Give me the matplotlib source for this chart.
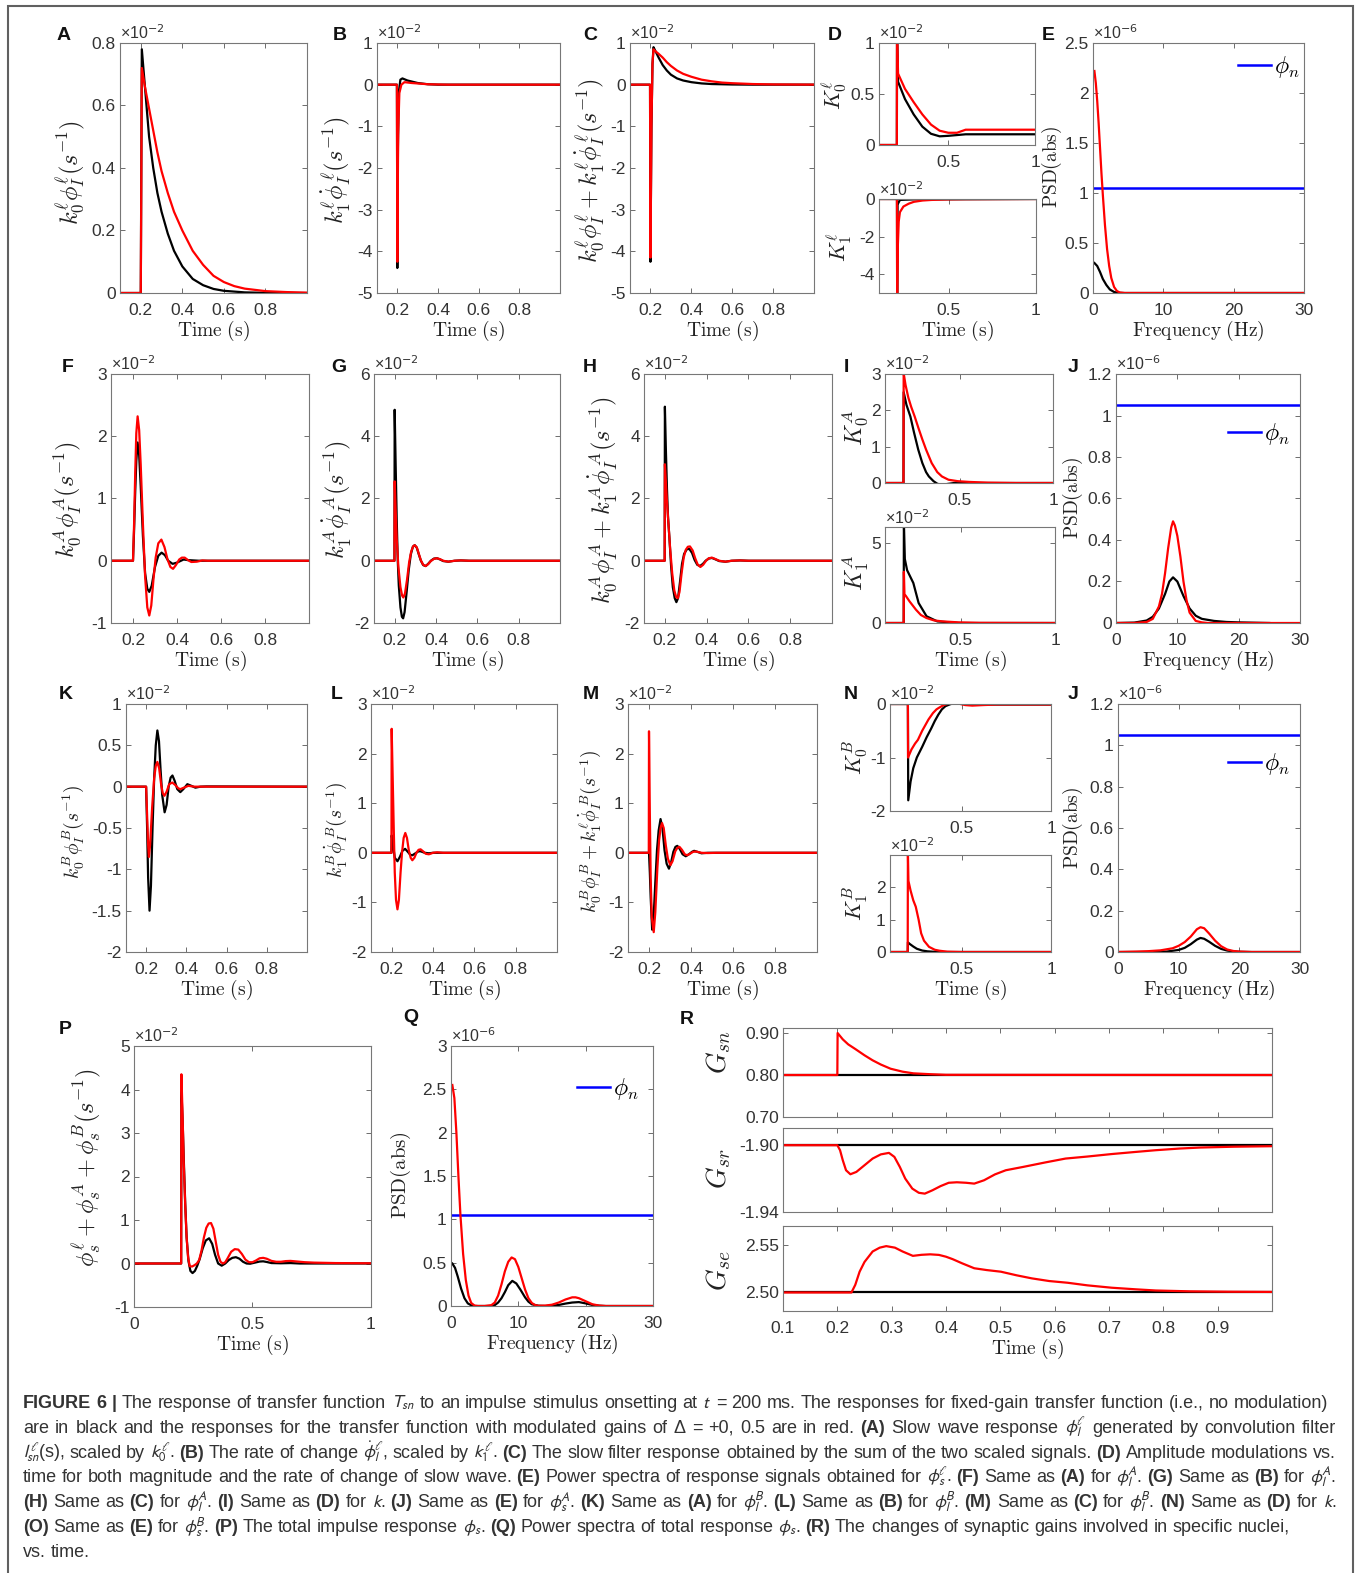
import matplotlib
matplotlib.use("Agg")
import matplotlib.pyplot as plt
from matplotlib.patches import Rectangle
from matplotlib.lines import Line2D

plt.rcParams["font.family"] = ["Liberation Sans", "DejaVu Sans"]
plt.rcParams["mathtext.fontset"] = "cm"
plt.rcParams["axes.unicode_minus"] = False

W, H = 1360, 1573
RED, BLACK, BLUE = "#ff0000", "#000000", "#0000ff"

# ---------------- data (scaled units) ----------------
# A: k0 phi_I (x1e-2)
a_black_t = [0.1, 0.2, 0.205, 0.22, 0.24, 0.26, 0.28, 0.30, 0.33, 0.36, 0.40, 0.45, 0.50, 0.55, 0.60, 0.70, 0.80, 1.0]
a_black = [0, 0, 0.78, 0.66, 0.50, 0.40, 0.32, 0.26, 0.19, 0.135, 0.085, 0.045, 0.025, 0.013, 0.007, 0.002, 0.0005, 0]
a_red_t = [0.1, 0.2, 0.205, 0.22, 0.24, 0.26, 0.28, 0.30, 0.33, 0.36, 0.40, 0.45, 0.50, 0.55, 0.60, 0.65, 0.70, 0.80, 0.90, 1.0]
a_red = [0, 0, 0.72, 0.66, 0.59, 0.52, 0.45, 0.39, 0.32, 0.26, 0.20, 0.135, 0.09, 0.055, 0.035, 0.022, 0.014, 0.006, 0.003, 0.001]

# B: k1 dphi_I
b_black_t = [0.1, 0.198, 0.2, 0.203, 0.207, 0.215, 0.225, 0.25, 0.3, 0.35, 0.4, 1.0]
b_black = [0, 0, -4.4, -1.5, -0.2, 0.12, 0.15, 0.1, 0.04, 0.01, 0, 0]
b_red_t = [0.1, 0.198, 0.2, 0.204, 0.21, 0.22, 0.235, 0.27, 0.35, 0.45, 1.0]
b_red = [0, 0, -4.25, -1.2, -0.2, 0.0, 0.06, 0.04, 0.01, 0, 0]

# C: sum
c_black_t = [0.1, 0.198, 0.2, 0.205, 0.21, 0.215, 0.22, 0.24, 0.26, 0.28, 0.30, 0.33, 0.36, 0.40, 0.45, 0.5, 0.6, 0.7, 1.0]
c_black = [0, 0, -4.25, -1.0, 0.5, 0.9, 0.85, 0.65, 0.47, 0.34, 0.24, 0.15, 0.1, 0.06, 0.03, 0.015, 0.004, 0, 0]
c_red_t = [0.1, 0.198, 0.2, 0.205, 0.21, 0.215, 0.22, 0.24, 0.26, 0.28, 0.30, 0.33, 0.36, 0.40, 0.45, 0.5, 0.55, 0.6, 0.7, 0.8, 1.0]
c_red = [0, 0, -4.15, -1.0, 0.5, 0.85, 0.82, 0.74, 0.65, 0.54, 0.45, 0.34, 0.26, 0.19, 0.12, 0.08, 0.05, 0.035, 0.015, 0.006, 0.001]

# D: K0, K1 (slow)
d0_black_t = [0.1, 0.203, 0.204, 0.21, 0.25, 0.3, 0.35, 0.4, 0.45, 0.5, 0.6, 1.0]
d0_black = [0, 0, 1.1, 0.62, 0.45, 0.3, 0.18, 0.11, 0.085, 0.09, 0.105, 0.105]
d0_red_t = [0.1, 0.203, 0.204, 0.21, 0.25, 0.3, 0.35, 0.4, 0.45, 0.5, 0.55, 0.6, 1.0]
d0_red = [0, 0, 1.1, 0.7, 0.55, 0.42, 0.3, 0.2, 0.14, 0.12, 0.12, 0.15, 0.15]
d1_black_t = [0.1, 0.203, 0.204, 0.206, 0.22, 0.3, 1.0]
d1_black = [0, 0, -5.2, -0.3, -0.05, -0.02, 0]
d1_red_t = [0.1, 0.203, 0.204, 0.208, 0.213, 0.22, 0.24, 0.27, 0.3, 0.35, 0.4, 0.5, 0.6, 1.0]
d1_red = [0, 0, -5.2, -2.5, -1.2, -0.7, -0.4, -0.25, -0.15, -0.08, -0.05, -0.02, -0.01, 0]

# E: PSD (x1e-6)
e_black_f = [0.2, 0.6, 1.0, 1.4, 1.9, 2.4, 3.0, 3.6, 4.5, 30]
e_black = [0.3, 0.27, 0.21, 0.14, 0.08, 0.035, 0.01, 0.002, 0, 0]
e_red_f = [0.2, 0.4, 0.6, 0.8, 1.0, 1.2, 1.4, 1.7, 2.0, 2.3, 2.6, 3.0, 3.4, 3.8, 4.5, 30]
e_red = [2.22, 2.1, 1.92, 1.7, 1.45, 1.2, 0.98, 0.68, 0.44, 0.27, 0.15, 0.06, 0.02, 0.005, 0, 0]
noise_f = [0, 30]
noise = [1.05, 1.05]

# F: k0 phi_I^A
f_black_t = [0.1, 0.2, 0.205, 0.21, 0.215, 0.221, 0.228, 0.235, 0.245, 0.255, 0.265, 0.274, 0.285, 0.3, 0.315, 0.33, 0.345, 0.36, 0.38, 0.4, 0.43, 0.45, 0.5, 1.0]
f_black = [0, 0, 0.5, 1.1, 1.6, 1.9, 1.7, 1.2, 0.4, -0.2, -0.45, -0.5, -0.4, -0.1, 0.08, 0.13, 0.09, 0.0, -0.05, -0.03, 0.02, 0.01, 0, 0]
f_red_t = [0.1, 0.2, 0.205, 0.21, 0.215, 0.221, 0.228, 0.235, 0.245, 0.255, 0.265, 0.274, 0.283, 0.293, 0.303, 0.315, 0.329, 0.343, 0.357, 0.37, 0.382, 0.395, 0.41, 0.422, 0.435, 0.45, 0.465, 0.49, 0.515, 0.54, 1.0]
f_red = [0, 0, 0.6, 1.4, 2.05, 2.32, 2.1, 1.55, 0.6, -0.25, -0.75, -0.88, -0.72, -0.3, 0.05, 0.28, 0.34, 0.22, 0.02, -0.1, -0.13, -0.07, 0.02, 0.05, 0.05, 0.01, -0.02, -0.015, 0.005, 0, 0]

# G: k1 dphi_I^A
g_black_t = [0.1, 0.199, 0.2, 0.205, 0.21, 0.215, 0.22, 0.228, 0.235, 0.241, 0.248, 0.258, 0.268, 0.278, 0.288, 0.297, 0.307, 0.317, 0.327, 0.338, 0.35, 0.362, 0.375, 0.39, 0.405, 0.42, 0.435, 0.46, 0.49, 0.52, 0.56, 1.0]
g_black = [0, 0, 4.85, 3.0, 1.3, 0.0, -0.8, -1.5, -1.8, -1.85, -1.65, -1.0, -0.3, 0.2, 0.45, 0.5, 0.42, 0.2, 0.0, -0.14, -0.17, -0.1, 0.0, 0.07, 0.08, 0.04, -0.01, -0.03, 0.0, 0.01, 0, 0]
g_red_t = [0.1, 0.199, 0.2, 0.205, 0.21, 0.218, 0.228, 0.236, 0.242, 0.25, 0.26, 0.27, 0.28, 0.29, 0.297, 0.307, 0.317, 0.327, 0.338, 0.35, 0.362, 0.375, 0.39, 0.405, 0.42, 0.435, 0.46, 0.49, 0.52, 0.56, 1.0]
g_red = [0, 0, 2.55, 1.6, 0.7, -0.2, -0.85, -1.12, -1.18, -1.05, -0.6, -0.05, 0.3, 0.47, 0.5, 0.43, 0.22, 0.01, -0.13, -0.17, -0.11, -0.01, 0.06, 0.08, 0.05, 0.0, -0.03, 0.0, 0.01, 0, 0]

# H: sum (A)
h_black_t = [0.1, 0.199, 0.2, 0.205, 0.21, 0.215, 0.222, 0.23, 0.238, 0.247, 0.255, 0.263, 0.272, 0.282, 0.292, 0.305, 0.317, 0.33, 0.342, 0.355, 0.368, 0.382, 0.395, 0.41, 0.425, 0.44, 0.46, 0.49, 0.52, 0.56, 0.6, 1.0]
h_black = [0, 0, 4.95, 3.5, 2.3, 1.4, 0.7, -0.2, -0.85, -1.2, -1.33, -1.2, -0.7, -0.1, 0.22, 0.37, 0.38, 0.25, 0.03, -0.13, -0.17, -0.1, 0.0, 0.07, 0.09, 0.05, -0.01, -0.03, 0.0, 0.01, 0, 0]
h_red_t = [0.1, 0.199, 0.2, 0.205, 0.21, 0.217, 0.225, 0.235, 0.245, 0.254, 0.262, 0.27, 0.28, 0.29, 0.3, 0.31, 0.32, 0.333, 0.345, 0.357, 0.37, 0.383, 0.397, 0.41, 0.425, 0.44, 0.46, 0.49, 0.52, 0.56, 0.6, 1.0]
h_red = [0, 0, 3.1, 2.5, 1.9, 1.2, 0.4, -0.4, -0.95, -1.17, -1.2, -1.0, -0.4, 0.1, 0.35, 0.45, 0.46, 0.33, 0.08, -0.12, -0.2, -0.13, 0.0, 0.08, 0.1, 0.06, 0.0, -0.03, 0.0, 0.01, 0, 0]

# I: K0, K1 (A)
i0_black_t = [0.1, 0.199, 0.2, 0.215, 0.236, 0.255, 0.278, 0.3, 0.32, 0.335, 0.36, 0.38, 0.4, 0.43, 0.47, 1.0]
i0_black = [0, 0, 2.5, 2.15, 1.83, 1.4, 0.92, 0.55, 0.3, 0.18, 0.05, -0.02, -0.05, -0.03, 0, 0]
i0_red_t = [0.1, 0.199, 0.2, 0.21, 0.225, 0.24, 0.259, 0.28, 0.3, 0.32, 0.35, 0.38, 0.405, 0.44, 0.49, 0.55, 0.65, 0.8, 1.0]
i0_red = [0, 0, 3.02, 2.7, 2.35, 2.1, 1.83, 1.5, 1.2, 0.92, 0.55, 0.3, 0.18, 0.09, 0.05, 0.03, 0.01, 0, 0]
i1_black_t = [0.1, 0.199, 0.2, 0.205, 0.217, 0.25, 0.278, 0.32, 0.377, 0.49, 1.0]
i1_black = [0, 0, 6.3, 4.0, 3.3, 2.5, 1.25, 0.42, 0.1, 0, 0]
i1_red_t = [0.1, 0.199, 0.2, 0.203, 0.21, 0.23, 0.264, 0.29, 0.32, 0.36, 0.405, 0.49, 0.6, 1.0]
i1_red = [0, 0, 3.2, 1.8, 1.7, 1.35, 0.83, 0.5, 0.31, 0.16, 0.1, 0.04, 0.01, 0]

# J: PSD (A)
j_black_f = [0, 3, 5, 6, 7, 8, 8.7, 9.3, 10, 11, 12, 13, 14, 16, 18, 20, 25]
j_black = [0, 0.002, 0.012, 0.03, 0.07, 0.14, 0.2, 0.22, 0.2, 0.13, 0.07, 0.035, 0.02, 0.01, 0.005, 0.003, 0.0]
j_red_f = [0, 3, 5, 6, 7, 7.5, 8, 8.5, 9, 9.3, 9.6, 10, 10.5, 11, 11.5, 12, 13, 14, 15, 30]
j_red = [0, 0, 0.005, 0.02, 0.08, 0.14, 0.24, 0.36, 0.46, 0.49, 0.47, 0.42, 0.32, 0.2, 0.11, 0.05, 0.01, 0.003, 0, 0]

# K: k0 phi_I^B
k_black_t = [0.1, 0.2, 0.205, 0.21, 0.217, 0.224, 0.232, 0.24, 0.248, 0.256, 0.264, 0.272, 0.28, 0.292, 0.302, 0.312, 0.322, 0.331, 0.342, 0.355, 0.37, 0.385, 0.405, 0.425, 0.445, 0.47, 0.5, 1.0]
k_black = [0, 0, -0.5, -1.1, -1.5, -1.2, -0.5, 0.1, 0.5, 0.68, 0.55, 0.2, -0.1, -0.31, -0.22, 0.0, 0.11, 0.135, 0.07, -0.03, -0.066, -0.03, 0.03, 0.01, -0.012, 0, 0.003, 0]
k_red_t = [0.1, 0.2, 0.205, 0.21, 0.214, 0.22, 0.23, 0.24, 0.248, 0.256, 0.265, 0.275, 0.283, 0.291, 0.302, 0.315, 0.33, 0.345, 0.36, 0.37, 0.39, 0.41, 0.44, 1.0]
k_red = [0, 0, -0.35, -0.7, -0.85, -0.7, -0.25, 0.1, 0.25, 0.3, 0.22, 0.02, -0.08, -0.11, -0.06, 0.03, 0.05, 0.02, -0.02, -0.03, -0.01, 0.01, 0, 0]

# L: k1 dphi_I^B
l_black_t = [0.1, 0.199, 0.2, 0.207, 0.215, 0.228, 0.24, 0.252, 0.265, 0.278, 0.29, 0.3, 0.315, 0.33, 0.34, 0.36, 0.38, 0.4, 1.0]
l_black = [0, 0, 0.35, 0.15, -0.1, -0.17, -0.08, 0.04, 0.08, 0.02, -0.04, -0.05, -0.01, 0.03, 0.03, 0.0, -0.01, 0, 0]
l_red_t = [0.1, 0.199, 0.2, 0.205, 0.21, 0.215, 0.221, 0.228, 0.235, 0.243, 0.25, 0.258, 0.266, 0.274, 0.283, 0.292, 0.3, 0.31, 0.32, 0.33, 0.34, 0.352, 0.365, 0.38, 0.4, 0.42, 0.45, 1.0]
l_red = [0, 0, 2.5, 1.5, 0.5, -0.4, -0.95, -1.14, -0.95, -0.4, 0.0, 0.3, 0.4, 0.3, 0.05, -0.1, -0.15, -0.1, 0.0, 0.06, 0.07, 0.03, -0.02, -0.03, 0, 0.01, 0, 0]

# M: sum (B)
m_black_t = [0.1, 0.2, 0.204, 0.208, 0.215, 0.222, 0.23, 0.238, 0.246, 0.255, 0.264, 0.274, 0.284, 0.295, 0.305, 0.316, 0.326, 0.335, 0.346, 0.36, 0.375, 0.39, 0.405, 0.415, 0.43, 0.45, 0.48, 1.0]
m_black = [0, 0, -0.4, -0.9, -1.55, -1.3, -0.6, 0.05, 0.45, 0.68, 0.5, 0.05, -0.22, -0.32, -0.2, 0.02, 0.12, 0.14, 0.08, -0.03, -0.07, -0.03, 0.02, 0.04, 0.02, -0.01, 0, 0]
m_red_t = [0.1, 0.199, 0.2, 0.204, 0.208, 0.213, 0.2225, 0.23, 0.24, 0.248, 0.255, 0.262, 0.27, 0.28, 0.29, 0.302, 0.312, 0.325, 0.335, 0.345, 0.357, 0.37, 0.382, 0.395, 0.41, 0.425, 0.45, 0.48, 0.52, 1.0]
m_red = [0, 0, 2.45, 0.8, -0.5, -1.3, -1.6, -1.2, -0.3, 0.25, 0.5, 0.6, 0.5, 0.15, -0.12, -0.25, -0.17, 0.03, 0.1, 0.12, 0.06, -0.03, -0.05, -0.02, 0.02, 0.025, 0, -0.005, 0, 0]

# N: K0, K1 (B)
n0_black_t = [0.1, 0.2, 0.202, 0.215, 0.23, 0.25, 0.28, 0.305, 0.33, 0.35, 0.37, 0.39, 0.41, 0.44, 0.47, 0.52, 0.6, 1.0]
n0_black = [0, 0, -1.8, -1.45, -1.2, -1.0, -0.8, -0.62, -0.46, -0.32, -0.2, -0.1, -0.04, 0, 0.01, 0, -0.01, -0.01]
n0_red_t = [0.1, 0.2, 0.201, 0.22, 0.24, 0.256, 0.28, 0.3, 0.315, 0.34, 0.36, 0.374, 0.4, 0.43, 0.45, 0.48, 0.52, 0.56, 0.62, 0.7, 1.0]
n0_red = [0, 0, -1.0, -0.85, -0.74, -0.67, -0.5, -0.38, -0.29, -0.17, -0.1, -0.07, -0.02, 0.01, 0.02, 0.01, -0.02, -0.03, -0.02, -0.01, -0.01]
n1_black_t = [0.1, 0.199, 0.2, 0.21, 0.23, 0.25, 0.28, 0.31, 0.35, 0.4, 1.0]
n1_black = [0, 0, 0.3, 0.25, 0.17, 0.1, 0.045, 0.02, 0.005, 0, 0]
n1_red_t = [0.1, 0.199, 0.2, 0.203, 0.215, 0.23, 0.244, 0.26, 0.274, 0.29, 0.318, 0.35, 0.376, 0.42, 0.5, 1.0]
n1_red = [0, 0, 3.1, 2.2, 1.9, 1.6, 1.4, 1.0, 0.58, 0.35, 0.16, 0.07, 0.04, 0.01, 0, 0]

# J (second): PSD (B)
o_black_f = [0, 5, 8, 10, 11, 12, 13, 13.6, 14.2, 15, 16, 17, 18, 19, 20, 22, 30]
o_black = [0, 0, 0.002, 0.01, 0.02, 0.038, 0.06, 0.068, 0.064, 0.05, 0.03, 0.015, 0.007, 0.003, 0.001, 0, 0]
o_red_f = [0, 3, 5, 7, 9, 10, 11, 12, 13, 13.6, 14.2, 15, 16, 17, 18, 19, 20, 22, 30]
o_red = [0, 0.002, 0.004, 0.008, 0.018, 0.03, 0.048, 0.075, 0.11, 0.12, 0.115, 0.09, 0.055, 0.028, 0.012, 0.005, 0.002, 0, 0]

# P: total response
p_black_t = [0, 0.199, 0.2, 0.205, 0.21, 0.216, 0.222, 0.23, 0.238, 0.247, 0.257, 0.267, 0.277, 0.29, 0.303, 0.317, 0.33, 0.342, 0.355, 0.37, 0.385, 0.4, 0.415, 0.43, 0.445, 0.46, 0.475, 0.49, 0.51, 0.53, 0.545, 0.56, 0.58, 0.62, 0.66, 0.7, 1.0]
p_black = [0, 0, 4.0, 3.3, 2.4, 1.4, 0.6, 0.05, -0.17, -0.22, -0.17, -0.05, 0.1, 0.35, 0.53, 0.58, 0.45, 0.2, 0.0, -0.05, 0.0, 0.08, 0.13, 0.145, 0.11, 0.04, 0.0, -0.005, 0.02, 0.045, 0.05, 0.035, 0.01, 0.005, 0.01, 0.0, 0.0]
p_red_t = [0, 0.199, 0.2, 0.205, 0.21, 0.216, 0.222, 0.228, 0.235, 0.245, 0.255, 0.265, 0.275, 0.285, 0.295, 0.305, 0.315, 0.325, 0.335, 0.345, 0.355, 0.365, 0.375, 0.385, 0.395, 0.41, 0.425, 0.44, 0.455, 0.47, 0.485, 0.5, 0.515, 0.53, 0.545, 0.56, 0.58, 0.6, 0.62, 0.64, 0.66, 0.68, 0.72, 0.76, 0.85, 1.0]
p_red = [0, 0, 4.35, 3.4, 2.3, 1.35, 0.6, 0.15, -0.06, -0.07, -0.04, 0.0, 0.08, 0.3, 0.6, 0.82, 0.92, 0.93, 0.8, 0.5, 0.2, 0.04, 0.0, 0.03, 0.12, 0.27, 0.33, 0.32, 0.22, 0.09, 0.03, 0.03, 0.07, 0.12, 0.13, 0.11, 0.06, 0.04, 0.04, 0.055, 0.06, 0.05, 0.03, 0.02, 0.01, 0.005]

# Q: PSD of total response
q_black_f = [0.2, 0.6, 1, 1.5, 2, 2.5, 3, 3.5, 6, 6.5, 7, 7.5, 8, 8.5, 9.1, 9.7, 10.3, 11, 11.5, 12, 13, 14, 15, 16, 17, 18, 19, 20, 21, 22, 23, 30]
q_black = [0.49, 0.44, 0.34, 0.2, 0.09, 0.03, 0.008, 0.0, 0, 0.01, 0.04, 0.09, 0.16, 0.24, 0.29, 0.26, 0.19, 0.1, 0.05, 0.02, 0.003, 0, 0.003, 0.012, 0.028, 0.04, 0.045, 0.03, 0.012, 0.003, 0, 0]
q_red_f = [0.2, 0.5, 0.8, 1.1, 1.4, 1.8, 2.2, 2.6, 3.0, 3.5, 4, 5, 6, 6.5, 7, 7.5, 8, 8.5, 9, 9.5, 10, 10.5, 11, 11.5, 12, 12.5, 13, 14, 15, 16, 17, 18, 18.5, 19, 20, 21, 22, 23, 30]
q_red = [2.55, 2.4, 2.0, 1.5, 1.05, 0.6, 0.3, 0.12, 0.035, 0.005, 0, 0, 0.01, 0.04, 0.12, 0.25, 0.4, 0.51, 0.56, 0.54, 0.45, 0.32, 0.19, 0.09, 0.035, 0.01, 0.003, 0.005, 0.015, 0.04, 0.075, 0.1, 0.1, 0.09, 0.055, 0.02, 0.005, 0, 0]

# R: synaptic gains
r_t = [0.1, 1.0]
gsn_fixed = [0.80, 0.80]
gsr_fixed = [-1.90, -1.90]
gse_fixed = [2.50, 2.50]
gsn_t = [0.1, 0.2, 0.2005, 0.21, 0.22, 0.233, 0.25, 0.265, 0.28, 0.298, 0.32, 0.34, 0.37, 0.4, 1.0]
gsn = [0.80, 0.80, 0.90, 0.885, 0.873, 0.862, 0.847, 0.835, 0.825, 0.815, 0.808, 0.804, 0.802, 0.8005, 0.80]
gsr_t = [0.1, 0.2, 0.205, 0.21, 0.216, 0.224, 0.235, 0.25, 0.265, 0.28, 0.295, 0.305, 0.315, 0.325, 0.338, 0.35, 0.361, 0.375, 0.39, 0.405, 0.42, 0.437, 0.452, 0.47, 0.49, 0.51, 0.542, 0.583, 0.62, 0.66, 0.705, 0.75, 0.786, 0.83, 0.868, 0.93, 1.0]
gsr = [-1.900, -1.900, -1.903, -1.909, -1.915, -1.9174, -1.916, -1.912, -1.908, -1.9055, -1.9046, -1.907, -1.913, -1.92, -1.926, -1.9285, -1.929, -1.927, -1.9245, -1.9225, -1.9222, -1.9225, -1.923, -1.921, -1.9175, -1.915, -1.913, -1.9103, -1.908, -1.9068, -1.9053, -1.904, -1.903, -1.902, -1.9014, -1.9009, -1.9006]
gse_t = [0.1, 0.226, 0.233, 0.241, 0.25, 0.265, 0.278, 0.29, 0.306, 0.32, 0.339, 0.355, 0.371, 0.387, 0.4, 0.412, 0.43, 0.452, 0.475, 0.501, 0.53, 0.558, 0.59, 0.624, 0.66, 0.705, 0.75, 0.786, 0.85, 0.92, 1.0]
gse = [2.50, 2.50, 2.508, 2.5218, 2.532, 2.543, 2.547, 2.5486, 2.547, 2.543, 2.5384, 2.5395, 2.540, 2.5394, 2.5375, 2.535, 2.5305, 2.5254, 2.5235, 2.5218, 2.518, 2.5148, 2.512, 2.5102, 2.5075, 2.505, 2.5033, 2.5021, 2.5012, 2.5008, 2.5006]

cap_lines = [
    r"**FIGURE 6 |** The response of transfer function $T_{sn}$ to an impulse stimulus onsetting at $t$ = 200 ms. The responses for fixed-gain transfer function (i.e., no modulation)",
    r"are in black and the responses for the transfer function with modulated gains of Δ = +0, 0.5 are in red. **(A)** Slow wave response $\phi_l^\ell$ generated by convolution filter",
    r"$l_{sn}^\ell$(s), scaled by $k_0^\ell$. **(B)** The rate of change $\dot{\phi}_l^\ell$, scaled by $k_1^\ell$. **(C)** The slow filter response obtained by the sum of the two scaled signals. **(D)** Amplitude modulations vs.",
    r"time for both magnitude and the rate of change of slow wave. **(E)** Power spectra of response signals obtained for $\phi_s^\ell$. **(F)** Same as **(A)** for $\phi_l^A$. **(G)** Same as **(B)** for $\phi_l^A$.",
    r"**(H)** Same as **(C)** for $\phi_l^A$. **(I)** Same as **(D)** for $k$. **(J)** Same as **(E)** for $\phi_s^A$. **(K)** Same as **(A)** for $\phi_l^B$. **(L)** Same as **(B)** for $\phi_l^B$. **(M)** Same as **(C)** for $\phi_l^B$. **(N)** Same as **(D)** for $k$.",
    r"**(O)** Same as **(E)** for $\phi_s^B$. **(P)** The total impulse response $\phi_s$. **(Q)** Power spectra of total response $\phi_s$. **(R)** The changes of synaptic gains involved in specific nuclei,",
    r"vs. time.",
]
cap_ends = [1328, 1336, 1336, 1336, 1336, 1290, None]

# ---------------- figure ----------------
fig = plt.figure(figsize=(W / 100, H / 100), dpi=100)
fig.add_artist(Rectangle((8 / W, -0.01), (1353 - 8) / W, 1 - 6 / H + 0.01,
                         transform=fig.transFigure, fill=False, ec="#606060", lw=1.5))


def ftext(x, y, s, **kw):
    return fig.text(x / W, 1 - y / H, s, **kw)


def panel(box, xlim, ylim, xticks, xlabels, yticks, ylabels, expo=None):
    l, t, r, b = box
    ax = fig.add_axes([l / W, 1 - b / H, (r - l) / W, (b - t) / H])
    ax.set_xlim(xlim)
    ax.set_ylim(ylim)
    ax.set_xticks(xticks, xlabels)
    ax.set_yticks(yticks, ylabels)
    ax.tick_params(direction="in", top=True, right=True, length=3.5, width=0.6,
                   color="#555555", labelcolor="#333333", labelsize=12.5)
    ax.tick_params(axis="x", pad=7)
    ax.tick_params(axis="y", pad=3)
    for s in ax.spines.values():
        s.set_color("#777777")
        s.set_linewidth(0.8)
    if expo is not None:
        ax.text(0.0, 1.005, "×10$^{%d}$" % expo, transform=ax.transAxes, ha="left", va="bottom",
                fontsize=11.5, color="#333333", math_fontfamily="dejavusans")
    return ax


def curves(ax, black_x, black_y, red_x, red_y):
    ax.plot(black_x, black_y, color=BLACK, lw=1.6)
    ax.plot(red_x, red_y, color=RED, lw=1.6)


def legend(ax, x, y):
    h = Line2D([], [], color=BLUE, lw=1.8)
    ax.legend([h], [r"$\phi_n$"], loc="center left", bbox_to_anchor=(x, y), frameon=False,
              fontsize=17, handlelength=1.4, handletextpad=0.12, borderpad=0, borderaxespad=0)


def xlab(box, s="Time (s)"):
    l, t, r, b = box
    ftext((l + r) / 2, b + 38, r"$\mathrm{%s}$" % s.replace(" ", r"\ "), ha="center", va="center",
          fontsize=14, color="#222222")


def ylab(x, y, s, size=17.5):
    ftext(x, y, s, rotation=90, ha="center", va="center", fontsize=size, color="#222222")


def letter(x, y, s):
    ftext(x, y, s, ha="center", va="center", fontsize=14, fontweight="bold", color="#111111")


t02 = [0.2, 0.4, 0.6, 0.8]
t02l = ["0.2", "0.4", "0.6", "0.8"]
f30 = [0, 10, 20, 30]
f30l = ["0", "10", "20", "30"]
psd12 = [0, 0.2, 0.4, 0.6, 0.8, 1.0, 1.2]
psd12l = ["0", "0.2", "0.4", "0.6", "0.8", "1", "1.2"]

# ---- row 1 ----
boxA = (120, 43, 307, 293)
ax = panel(boxA, (0.1, 1.0), (0, 0.8), t02, t02l, [0, 0.2, 0.4, 0.6, 0.8], ["0", "0.2", "0.4", "0.6", "0.8"], -2)
curves(ax, a_black_t, a_black, a_red_t, a_red)
xlab(boxA); ylab(71, 172, r"$k_0^\ell\phi_I^\ell(s^{-1})$"); letter(64, 35, "A")

boxB = (377, 43, 560, 293)
ax = panel(boxB, (0.1, 1.0), (-5, 1), t02, t02l, list(range(-5, 2)), [str(v) for v in range(-5, 2)], -2)
curves(ax, b_black_t, b_black, b_red_t, b_red)
xlab(boxB); ylab(336, 170, r"$k_1^\ell\dot{\phi}_I^{\;\ell}(s^{-1})$"); letter(340, 35, "B")

boxC = (630, 43, 814, 293)
ax = panel(boxC, (0.1, 1.0), (-5, 1), t02, t02l, list(range(-5, 2)), [str(v) for v in range(-5, 2)], -2)
curves(ax, c_black_t, c_black, c_red_t, c_red)
xlab(boxC); ylab(590, 170, r"$k_0^\ell\phi_I^\ell+k_1^\ell\dot{\phi}_I^{\;\ell}(s^{-1})$"); letter(590, 35, "C")

boxD0 = (879, 43, 1035, 145)
ax = panel(boxD0, (0.1, 1.0), (0, 1), [0.5, 1], ["0.5", "1"], [0, 0.5, 1], ["0", "0.5", "1"], -2)
curves(ax, d0_black_t, d0_black, d0_red_t, d0_red)
ylab(834, 95, r"$K_0^\ell$", 16)
boxD1 = (879, 199, 1036, 293)
ax = panel(boxD1, (0.1, 1.0), (-5, 0), [0.5, 1], ["0.5", "1"], [-4, -2, 0], ["-4", "-2", "0"], -2)
curves(ax, d1_black_t, d1_black, d1_red_t, d1_red)
xlab(boxD1); ylab(839, 247, r"$K_1^\ell$", 16); letter(835, 35, "D")

boxE = (1093, 43, 1304, 293)
ax = panel(boxE, (0, 30), (0, 2.5), f30, f30l, [0, 0.5, 1, 1.5, 2, 2.5], ["0", "0.5", "1", "1.5", "2", "2.5"], -6)
ax.plot(noise_f, noise, color=BLUE, lw=1.8)
curves(ax, e_black_f, e_black, e_red_f, e_red)
legend(ax, 0.687, 0.904)
xlab(boxE, "Frequency (Hz)"); ylab(1052, 167, r"$\mathrm{PSD(abs)}$", 14); letter(1048, 35, "E")

# ---- row 2 ----
boxF = (111, 374, 309, 623)
ax = panel(boxF, (0.1, 1.0), (-1, 3), t02, t02l, [-1, 0, 1, 2, 3], ["-1", "0", "1", "2", "3"], -2)
curves(ax, f_black_t, f_black, f_red_t, f_red)
xlab(boxF); ylab(68, 500, r"$k_0^A\phi_I^A(s^{-1})$"); letter(68, 367, "F")

boxG = (374, 374, 560, 623)
ax = panel(boxG, (0.1, 1.0), (-2, 6), t02, t02l, [-2, 0, 2, 4, 6], ["-2", "0", "2", "4", "6"], -2)
curves(ax, g_black_t, g_black, g_red_t, g_red)
xlab(boxG); ylab(337, 500, r"$k_1^A\dot{\phi}_I^{\;A}(s^{-1})$"); letter(339, 367, "G")

boxH = (644, 374, 832, 623)
ax = panel(boxH, (0.1, 1.0), (-2, 6), t02, t02l, [-2, 0, 2, 4, 6], ["-2", "0", "2", "4", "6"], -2)
curves(ax, h_black_t, h_black, h_red_t, h_red)
xlab(boxH); ylab(603, 500, r"$k_0^A\phi_I^A+k_1^A\dot{\phi}_I^{\;A}(s^{-1})$"); letter(590, 367, "H")

boxI0 = (885, 374, 1053, 483)
ax = panel(boxI0, (0.1, 1.0), (0, 3), [0.5, 1], ["0.5", "1"], [0, 1, 2, 3], ["0", "1", "2", "3"], -2)
curves(ax, i0_black_t, i0_black, i0_red_t, i0_red)
ylab(855, 428, r"$K_0^A$", 17)
boxI1 = (885, 527, 1055, 623)
ax = panel(boxI1, (0.1, 1.0), (0, 6), [0.5, 1], ["0.5", "1"], [0, 5], ["0", "5"], -2)
curves(ax, i1_black_t, i1_black, i1_red_t, i1_red)
xlab(boxI1); ylab(855, 573, r"$K_1^A$", 17); letter(846, 367, "I")

boxJ = (1116, 374, 1300, 623)
ax = panel(boxJ, (0, 30), (0, 1.2), f30, f30l, psd12, psd12l, -6)
ax.plot(noise_f, noise, color=BLUE, lw=1.8)
curves(ax, j_black_f, j_black, j_red_f, j_red)
legend(ax, 0.609, 0.759)
xlab(boxJ, "Frequency (Hz)"); ylab(1073, 498, r"$\mathrm{PSD(abs)}$", 14); letter(1073, 367, "J")

# ---- row 3 ----
boxK = (126, 704, 307, 952)
ax = panel(boxK, (0.1, 1.0), (-2, 1), t02, t02l, [-2, -1.5, -1, -0.5, 0, 0.5, 1],
           ["-2", "-1.5", "-1", "-0.5", "0", "0.5", "1"], -2)
curves(ax, k_black_t, k_black, k_red_t, k_red)
xlab(boxK); ylab(73, 832, r"$k_0^B\phi_I^B(s^{-1})$", 14); letter(66, 695, "K")

boxL = (371, 704, 557, 952)
ax = panel(boxL, (0.1, 1.0), (-2, 3), t02, t02l, list(range(-2, 4)), [str(v) for v in range(-2, 4)], -2)
curves(ax, l_black_t, l_black, l_red_t, l_red)
xlab(boxL); ylab(336, 830, r"$k_1^B\dot{\phi}_I^{\;B}(s^{-1})$", 14); letter(337, 695, "L")

boxM = (628, 704, 817, 952)
ax = panel(boxM, (0.1, 1.0), (-2, 3), t02, t02l, list(range(-2, 4)), [str(v) for v in range(-2, 4)], -2)
curves(ax, m_black_t, m_black, m_red_t, m_red)
xlab(boxM); ylab(590, 832, r"$k_0^B\phi_I^B+k_1^\ell\dot{\phi}_I^{\;B}(s^{-1})$", 14); letter(591, 695, "M")

boxN0 = (890, 704, 1051, 811)
ax = panel(boxN0, (0.1, 1.0), (-2, 0), [0.5, 1], ["0.5", "1"], [-2, -1, 0], ["-2", "-1", "0"], -2)
curves(ax, n0_black_t, n0_black, n0_red_t, n0_red)
ylab(855, 757, r"$K_0^B$", 16)
boxN1 = (890, 855, 1051, 952)
ax = panel(boxN1, (0.1, 1.0), (0, 3), [0.5, 1], ["0.5", "1"], [0, 1, 2], ["0", "1", "2"], -2)
curves(ax, n1_black_t, n1_black, n1_red_t, n1_red)
xlab(boxN1); ylab(855, 903, r"$K_1^B$", 16); letter(851, 695, "N")

boxO = (1118, 704, 1300, 952)
ax = panel(boxO, (0, 30), (0, 1.2), f30, f30l, psd12, psd12l, -6)
ax.plot(noise_f, noise, color=BLUE, lw=1.8)
curves(ax, o_black_f, o_black, o_red_f, o_red)
legend(ax, 0.604, 0.758)
xlab(boxO, "Frequency (Hz)"); ylab(1073, 828, r"$\mathrm{PSD(abs)}$", 14); letter(1073, 695, "J")

# ---- row 4 ----
boxP = (134, 1046, 371, 1307)
ax = panel(boxP, (0, 1), (-1, 5), [0, 0.5, 1], ["0", "0.5", "1"], list(range(-1, 6)), [str(v) for v in range(-1, 6)], -2)
curves(ax, p_black_t, p_black, p_red_t, p_red)
xlab(boxP); ylab(87, 1168, r"$\phi_s^\ell+\phi_s^A+\phi_s^B(s^{-1})$", 17.5); letter(65, 1030, "P")

boxQ = (451, 1046, 653, 1306)
ax = panel(boxQ, (0, 30), (0, 3), f30, f30l, [0, 0.5, 1, 1.5, 2, 2.5, 3], ["0", "0.5", "1", "1.5", "2", "2.5", "3"], -6)
ax.plot(noise_f, noise, color=BLUE, lw=1.8)
curves(ax, q_black_f, q_black, q_red_f, q_red)
legend(ax, 0.624, 0.835)
xlab(boxQ, "Frequency (Hz)"); ylab(401, 1175, r"$\mathrm{PSD(abs)}$", 15); letter(411, 1018, "Q")

rticks = [0.1, 0.2, 0.3, 0.4, 0.5, 0.6, 0.7, 0.8, 0.9]
boxR1 = (783, 1028, 1272, 1117)
ax = panel(boxR1, (0.1, 1.0), (0.70, 0.912), rticks, [""] * 9, [0.7, 0.8, 0.9], ["0.70", "0.80", "0.90"])
curves(ax, r_t, gsn_fixed, gsn_t, gsn)
ylab(719, 1052, r"$G_{sn}$", 20)
boxR2 = (783, 1128, 1272, 1212)
ax = panel(boxR2, (0.1, 1.0), (-1.94, -1.8897), rticks, [""] * 9, [-1.94, -1.90], ["-1.94", "-1.90"])
curves(ax, r_t, gsr_fixed, gsr_t, gsr)
ylab(719, 1168, r"$G_{sr}$", 20)
boxR3 = (783, 1226, 1272, 1311)
ax = panel(boxR3, (0.1, 1.0), (2.4806, 2.5697), rticks, [str(v) for v in rticks], [2.50, 2.55], ["2.50", "2.55"])
curves(ax, r_t, gse_fixed, gse_t, gse)
ylab(719, 1270, r"$G_{se}$", 20)
xlab(boxR3); letter(687, 1019, "R")

# ---- caption ----
renderer = fig.canvas.get_renderer()
base = 11.5
rows = []
for i, line in enumerate(cap_lines):
    y = 1403 + i * 24.8 + 5
    items = []
    for j, part in enumerate(line.split("**")):
        for w in part.split(" "):
            if w:
                items.append(ftext(23, y, w, fontsize=base, fontweight="bold" if j % 2 else "normal",
                                   color="#333333", ha="left", va="baseline", math_fontfamily="stixsans"))
    rows.append(items)


def widths(items):
    return [t.get_window_extent(renderer).width for t in items]


# scale the caption font so the full lines reach their right margins
ratios = []
for items, end in zip(rows[:5], cap_ends[:5]):
    nat = sum(widths(items)) + (len(items) - 1) * base * 100 / 72 * 0.28
    ratios.append((end - 23) / nat)
ratios.sort()
size = base * min(max(ratios[2], 0.85), 1.35)
space = size * 100 / 72 * 0.28
for items, end in zip(rows, cap_ends):
    for t in items:
        t.set_fontsize(size)
    ws = widths(items)
    gap = space
    if end is not None and len(items) > 1:
        gap = (end - 23 - sum(ws)) / (len(items) - 1)
    x = 23
    for t, wd in zip(items, ws):
        t.set_x(x / W)
        x += wd + gap

fig.savefig("out.png", dpi=100, facecolor="white")
